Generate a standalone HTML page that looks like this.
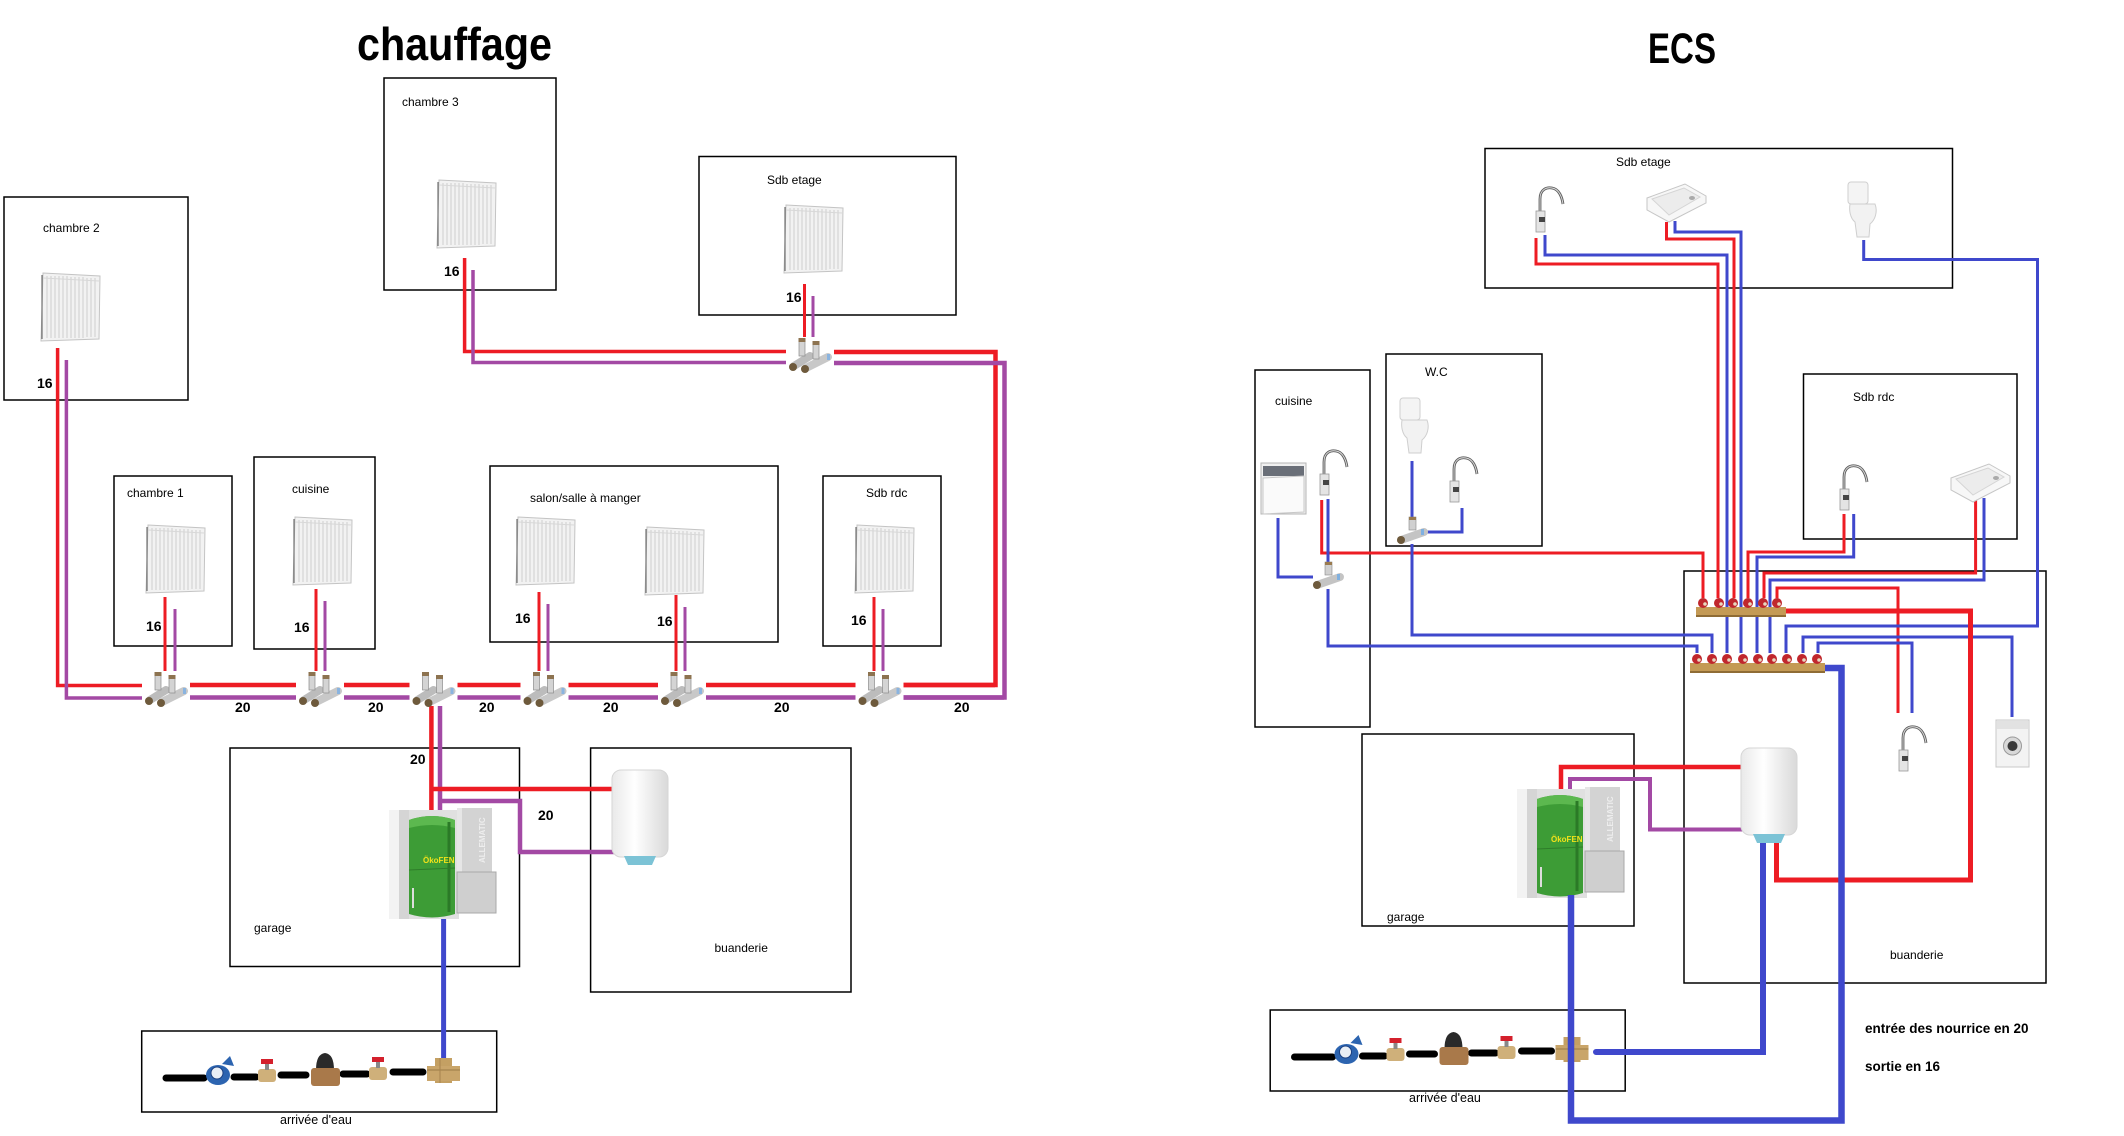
<!DOCTYPE html>
<html><head><meta charset="utf-8"><style>
html,body{margin:0;padding:0;background:#fff;}
svg{display:block;}
text{font-family:"Liberation Sans",sans-serif;fill:#000;}
.lbl{font-size:12px;}
.num{font-size:14px;font-weight:bold;}
</style></head><body>
<svg width="2124" height="1136" viewBox="0 0 2124 1136" xmlns="http://www.w3.org/2000/svg">
<defs>
<linearGradient id="hg" x1="0" x2="1" y1="0" y2="0"><stop offset="0" stop-color="#e9e9e9"/><stop offset="0.4" stop-color="#ffffff"/><stop offset="1" stop-color="#d9d9d9"/></linearGradient>
<g id="rad">
<polygon points="2,0 59,3 58,66 0,68" fill="#f2f2f2" stroke="#c4c4c4"/>
<g stroke="#cdcdcd" stroke-width="1">
<line x1="6" y1="3" x2="6" y2="65"/><line x1="10" y1="3" x2="10" y2="65"/><line x1="14" y1="3" x2="14" y2="65"/><line x1="18" y1="3" x2="18" y2="65"/><line x1="22" y1="3" x2="22" y2="65"/><line x1="26" y1="3" x2="26" y2="65"/><line x1="30" y1="4" x2="30" y2="65"/><line x1="34" y1="4" x2="34" y2="65"/><line x1="38" y1="4" x2="38" y2="65"/><line x1="42" y1="4" x2="42" y2="65"/><line x1="46" y1="5" x2="46" y2="64"/><line x1="50" y1="5" x2="50" y2="64"/><line x1="54" y1="5" x2="54" y2="64"/>
</g>
<line x1="2" y1="5" x2="58" y2="8" stroke="#d8d8d8"/>
<line x1="1" y1="2" x2="1" y2="66" stroke="#555" stroke-width="1"/>
</g>
<g id="v">
<rect x="0" y="0" width="48" height="35" fill="#fff"/>
<line x1="8" y1="29" x2="24" y2="19" stroke="#bcbcbc" stroke-width="8" stroke-linecap="round"/>
<line x1="20" y1="31" x2="42" y2="20" stroke="#c8c8c8" stroke-width="8" stroke-linecap="round"/>
<rect x="13" y="3" width="6" height="16" fill="#d4d4d4" stroke="#8c8c8c" stroke-width="0.7"/>
<rect x="27" y="6" width="6" height="16" fill="#d4d4d4" stroke="#8c8c8c" stroke-width="0.7"/>
<rect x="12.5" y="1" width="7" height="4" fill="#8d7350"/>
<rect x="26.5" y="4" width="7" height="4" fill="#8d7350"/>
<circle cx="7" cy="30" r="4" fill="#6e5a3c"/>
<circle cx="19" cy="32" r="4" fill="#6e5a3c"/>
<rect x="41" y="17" width="3" height="6" fill="#8ab4e0"/>
</g>
<g id="tee">
<rect x="0" y="0" width="30" height="27" fill="#fff"/>
<line x1="4" y1="23" x2="27" y2="15" stroke="#c4c4c4" stroke-width="8" stroke-linecap="round"/>
<rect x="12" y="0" width="7" height="13" fill="#d0d0d0" stroke="#888" stroke-width="0.6"/>
<rect x="12" y="0" width="7" height="3" fill="#9a7b4f"/>
<circle cx="4" cy="23" r="4" fill="#6e5a3c"/>
<rect x="24" y="12" width="3" height="6" fill="#7fb0e0"/>
</g>
<g id="boiler">
<rect x="0" y="2" width="70" height="109" fill="#e0e0e0"/>
<rect x="0" y="2" width="10" height="109" fill="#f3f3f3"/>
<rect x="10" y="2" width="10" height="109" fill="#d5d5d5"/>
<path d="M20 12 Q43 4 66 12 V106 Q43 113 20 106Z" fill="#3d9c36"/>
<path d="M20 12 Q43 4 66 12 V20 Q43 14 20 20Z" fill="#5cb84f"/>
<path d="M60 14 V104" stroke="#2b7a27" stroke-width="3"/>
<line x1="20" y1="62" x2="66" y2="60" stroke="#2e7d2a"/>
<rect x="23" y="80" width="2" height="20" fill="#ddd"/>
<rect x="68" y="0" width="35" height="70" fill="#d3d3d3"/>
<rect x="68" y="0" width="5" height="70" fill="#e6e6e6"/>
<text x="0" y="0" transform="translate(96,55) rotate(-90)" style="font-size:8px;font-weight:bold;fill:#eeeeee">ALLEMATIC</text>
<rect x="68" y="64" width="39" height="41" fill="#cfcfcf" stroke="#a8a8a8"/>
<text x="34" y="55" style="font-size:8px;font-weight:bold;fill:#f2e21a">ÖkoFEN</text>
</g>
<g id="heater">
<rect x="0" y="0" width="56" height="87" rx="9" fill="url(#hg)" stroke="#d6d6d6"/>
<path d="M12 86 H44 L40 95 H16Z" fill="#7cc3d6"/>
</g>
<g id="fau">
<path d="M7 26 V12 C7 2 14 0 19 1 C26 2 29 10 30 17" fill="none" stroke="#5f5f5f" stroke-width="2.8"/>
<path d="M7 26 V12 C7 2 14 0 19 1 C26 2 29 10 30 17" fill="none" stroke="#dcdcdc" stroke-width="0.9"/>
<rect x="3" y="24" width="9" height="21" fill="#e4e4e4" stroke="#9a9a9a" stroke-width="0.8"/>
<rect x="6" y="30" width="6" height="5" fill="#444"/>
</g>
<g id="sink">
<polygon points="0,14 38,0 59,12 59,19 22,38 0,26" fill="#f7f7f7" stroke="#c6c6c6"/>
<polygon points="5,15 37,4 53,13 22,31" fill="#ececec" stroke="#d5d5d5"/>
<ellipse cx="45" cy="14" rx="3" ry="2" fill="#aaa"/>
</g>
<g id="wc">
<rect x="3" y="0" width="20" height="22" rx="3" fill="#f4f4f4" stroke="#cfcfcf"/>
<path d="M5 22 H30 C33 30 30 38 25 42 L24 55 H12 L10 40 C5 36 4 28 5 22Z" fill="#f2f2f2" stroke="#cfcfcf"/>
</g>
<g id="arrc">
<g stroke="#000" stroke-width="7" stroke-linecap="round">
<line x1="166" y1="1078" x2="204" y2="1078"/>
<line x1="234" y1="1077" x2="256" y2="1077"/>
<line x1="281" y1="1075" x2="306" y2="1075"/>
<line x1="343" y1="1074" x2="367" y2="1074"/>
<line x1="393" y1="1072" x2="423" y2="1072"/>
</g>
<ellipse cx="218" cy="1075" rx="12" ry="10" fill="#2c64b0"/>
<circle cx="217" cy="1073" r="6" fill="#e8eef5" stroke="#1a3f80"/>
<path d="M222 1064 L230 1056 L234 1066 Z" fill="#2c64b0"/>
<rect x="258" y="1069" width="18" height="13" rx="3" fill="#cfb07a"/>
<rect x="265" y="1063" width="4" height="7" fill="#888"/>
<rect x="261" y="1059" width="12" height="5" fill="#d4202c"/>
<path d="M316 1070 Q316 1054 325 1053 Q334 1054 334 1070Z" fill="#2a2a2a"/>
<rect x="311" y="1068" width="29" height="18" rx="3" fill="#a9794a"/>
<rect x="369" y="1067" width="18" height="13" rx="3" fill="#cfb07a"/>
<rect x="376" y="1061" width="4" height="7" fill="#888"/>
<rect x="372" y="1057" width="12" height="5" fill="#d4202c"/>
<rect x="435" y="1058" width="17" height="25" fill="#c4a063"/>
<rect x="427" y="1066" width="33" height="15" fill="#c9a56a"/>
<line x1="427" y1="1070" x2="460" y2="1070" stroke="#9c7a45"/>
<line x1="440" y1="1058" x2="440" y2="1083" stroke="#a8844f"/>
</g>
</defs>

<!-- TITLES -->
<text x="357" y="60" textLength="195" lengthAdjust="spacingAndGlyphs" style="font-size:46px;font-weight:bold">chauffage</text>
<text x="1648" y="63" textLength="68" lengthAdjust="spacingAndGlyphs" style="font-size:43px;font-weight:bold">ECS</text>

<!-- CHAUFFAGE BOXES -->
<g fill="none" stroke="#000" stroke-width="1.5">
<rect x="384" y="78" width="172" height="212"/>
<rect x="699" y="156.5" width="257" height="158.5"/>
<rect x="4" y="197" width="184" height="203"/>
<rect x="114" y="476" width="118" height="170"/>
<rect x="254" y="457" width="121" height="192"/>
<rect x="490" y="466" width="288" height="176"/>
<rect x="823" y="476" width="118" height="170"/>
<rect x="230" y="748" width="289.5" height="218.5"/>
<rect x="590.6" y="748" width="260.4" height="244"/>
<rect x="141.7" y="1031" width="355" height="81"/>
</g>

<!-- ECS BOXES -->
<g fill="none" stroke="#000" stroke-width="1.5">
<rect x="1485" y="148.5" width="467.5" height="139.5"/>
<rect x="1386" y="354" width="156" height="192"/>
<rect x="1255" y="370" width="115" height="357"/>
<rect x="1803.5" y="374" width="213.5" height="165"/>
<rect x="1362" y="734" width="272" height="192"/>
<rect x="1684" y="571" width="362" height="412"/>
<rect x="1270.2" y="1010" width="355" height="81"/>
</g>

<!-- CHAUFFAGE PIPES -->
<g fill="none" stroke-linejoin="miter">
<!-- chambre 3 -->
<polyline points="464.6,258 464.6,351.5 787,351.5" stroke="#ed1c24" stroke-width="3.5"/>
<polyline points="473,270 473,362.5 787,362.5" stroke="#a349a4" stroke-width="3.5"/>
<!-- sdb etage -->
<line x1="804.5" y1="284" x2="804.5" y2="341" stroke="#ed1c24" stroke-width="3"/>
<line x1="813" y1="296" x2="813" y2="341" stroke="#a349a4" stroke-width="3"/>
<!-- right loop -->
<polyline points="830,352 995.5,352 995.5,685 880,685" stroke="#ed1c24" stroke-width="4.5"/>
<polyline points="830,363 1004.5,363 1004.5,697.5 880,697.5" stroke="#a349a4" stroke-width="4.5"/>
<!-- chambre 2 -->
<polyline points="57.6,348 57.6,685.5 145,685.5" stroke="#ed1c24" stroke-width="3.5"/>
<polyline points="66.4,360 66.4,698 145,698" stroke="#a349a4" stroke-width="3.5"/>
<!-- main -->
<line x1="145" y1="685" x2="995" y2="685" stroke="#ed1c24" stroke-width="4.5"/>
<line x1="145" y1="697.5" x2="1004" y2="697.5" stroke="#a349a4" stroke-width="4.5"/>
<!-- room verticals -->
<g stroke-width="3">
<line x1="165" y1="597" x2="165" y2="674" stroke="#ed1c24"/><line x1="175" y1="609" x2="175" y2="674" stroke="#a349a4"/>
<line x1="316" y1="589" x2="316" y2="674" stroke="#ed1c24"/><line x1="325" y1="601" x2="325" y2="674" stroke="#a349a4"/>
<line x1="539" y1="592" x2="539" y2="674" stroke="#ed1c24"/><line x1="548" y1="604" x2="548" y2="674" stroke="#a349a4"/>
<line x1="676" y1="595" x2="676" y2="674" stroke="#ed1c24"/><line x1="685" y1="607" x2="685" y2="674" stroke="#a349a4"/>
<line x1="874" y1="597" x2="874" y2="674" stroke="#ed1c24"/><line x1="883" y1="609" x2="883" y2="674" stroke="#a349a4"/>
</g>
<!-- to garage -->
<polyline points="431.4,704 431.4,812" stroke="#ed1c24" stroke-width="4.5"/>
<polyline points="440,704 440,817" stroke="#a349a4" stroke-width="4.5"/>
<polyline points="431.4,789 617,789" stroke="#ed1c24" stroke-width="4.5"/>
<polyline points="440,801 520,801 520,852 618,852" stroke="#a349a4" stroke-width="4.5"/>
<line x1="443.6" y1="916" x2="443.6" y2="1059" stroke="#3f48cc" stroke-width="5"/>
</g>

<!-- CHAUFFAGE ICONS -->
<use href="#rad" x="437" y="180"/>
<use href="#rad" x="784" y="205"/>
<use href="#rad" x="41" y="273"/>
<use href="#rad" x="146" y="525"/>
<use href="#rad" x="293" y="517"/>
<use href="#rad" x="516" y="517"/>
<use href="#rad" x="645" y="527"/>
<use href="#rad" x="855" y="525"/>
<use href="#v" x="786" y="337"/>
<use href="#v" x="142" y="671"/>
<use href="#v" x="296" y="671"/>
<use href="#v" x="409.5" y="671"/>
<use href="#v" x="520.5" y="671"/>
<use href="#v" x="658" y="671"/>
<use href="#v" x="855.5" y="671"/>
<use href="#boiler" x="389" y="808"/>
<use href="#heater" x="612" y="770"/>
<use href="#arrc"/>

<!-- ECS PIPES -->
<g fill="none" stroke-width="3">
<!-- red -->
<polyline points="1536,238 1536,264 1718,264 1718,598" stroke="#ed1c24"/>
<polyline points="1666.5,222 1666.5,239 1734,239 1734,598" stroke="#ed1c24"/>
<polyline points="1321.7,500 1321.7,553 1703,553 1703,598" stroke="#ed1c24"/>
<polyline points="1844,514 1844,552 1748,552 1748,598" stroke="#ed1c24"/>
<polyline points="1975.6,500 1975.6,573 1764,573 1764,598" stroke="#ed1c24"/>
<polyline points="1777,598 1777,588 1898,588 1898,713" stroke="#ed1c24"/>
<!-- blue -->
<polyline points="1545,235 1545,255 1727,255 1727,653" stroke="#3f48cc"/>
<polyline points="1675,221 1675,232 1741,232 1741,653" stroke="#3f48cc"/>
<polyline points="1863.7,240 1863.7,259.5 2037.5,259.5 2037.5,626 1786,626 1786,653" stroke="#3f48cc"/>
<polyline points="1278,518 1278,577 1315,577" stroke="#3f48cc"/>
<polyline points="1328,499 1328,563" stroke="#3f48cc"/>
<polyline points="1328,588 1328,646 1697,646 1697,653" stroke="#3f48cc"/>
<polyline points="1412,461 1412,518" stroke="#3f48cc"/>
<polyline points="1462,508 1462,532 1427,532" stroke="#3f48cc"/>
<polyline points="1412,543 1412,635 1712,635 1712,653" stroke="#3f48cc"/>
<polyline points="1853.7,514 1853.7,557 1757,557 1757,653" stroke="#3f48cc"/>
<polyline points="1984,498 1984,580 1770,580 1770,653" stroke="#3f48cc"/>
<polyline points="1803,653 1803,637 2012,637 2012,717" stroke="#3f48cc"/>
<polyline points="1818,653 1818,643 1912,643 1912,713" stroke="#3f48cc"/>
<!-- thick -->
<polyline points="1782,611 1970.5,611 1970.5,880 1776.5,880 1776.5,841" stroke="#ed1c24" stroke-width="5"/>
<polyline points="1561,790 1561,767 1746,767" stroke="#ed1c24" stroke-width="4.5"/>
<polyline points="1570,794 1570,779 1650,779 1650,829.5 1748,829.5" stroke="#a349a4" stroke-width="4"/>
<polyline points="1596,1052 1763,1052 1763,841" stroke="#3f48cc" stroke-width="6" stroke-linecap="round"/>
</g>

<!-- ECS ICONS -->
<use href="#fau" x="1533" y="187"/>
<use href="#fau" x="1317" y="450"/>
<use href="#fau" x="1447" y="457"/>
<use href="#fau" x="1837" y="465"/>
<use href="#fau" x="1896" y="726"/>
<use href="#sink" x="1647" y="184"/>
<use href="#sink" x="1951" y="464"/>
<use href="#wc" x="1845" y="182"/>
<use href="#wc" x="1397" y="398"/>
<g transform="translate(1260,462)">
<rect x="1" y="1" width="45" height="51" fill="#f0f0f0" stroke="#b5b5b5"/>
<rect x="3" y="4" width="41" height="10" fill="#6a6f78"/>
<polygon points="3,16 44,14 44,50 3,52" fill="#fafafa" stroke="#c8c8c8"/>
</g>
<g transform="translate(1995,719)">
<rect x="1" y="1" width="33" height="47" fill="#f3f3f3" stroke="#c8c8c8"/>
<rect x="2" y="2" width="31" height="8" fill="#e2e2e2"/>
<circle cx="17.5" cy="27" r="9" fill="#d8d8d8" stroke="#999"/>
<circle cx="17.5" cy="27" r="5" fill="#3a3a3a"/>
</g>
<use href="#tee" x="1313" y="562"/>
<use href="#tee" x="1397" y="517"/>

<!-- manifolds -->
<g>
<rect x="1696" y="607" width="90" height="10" fill="#c49a55"/>
<line x1="1696" y1="616" x2="1786" y2="616" stroke="#8f6c35" stroke-width="2"/>
<g fill="#c0272d">
<circle cx="1703" cy="603" r="5"/><circle cx="1719" cy="603" r="5"/><circle cx="1733" cy="603" r="5"/><circle cx="1748" cy="603" r="5"/><circle cx="1763" cy="603" r="5"/><circle cx="1777" cy="603" r="5"/>
</g>
<g fill="#e8d9c0"><circle cx="1705" cy="604" r="1.8"/><circle cx="1721" cy="604" r="1.8"/><circle cx="1735" cy="604" r="1.8"/><circle cx="1750" cy="604" r="1.8"/><circle cx="1765" cy="604" r="1.8"/><circle cx="1779" cy="604" r="1.8"/></g>
<rect x="1690" y="663" width="135" height="10" fill="#c49a55"/>
<line x1="1690" y1="672" x2="1825" y2="672" stroke="#8f6c35" stroke-width="2"/>
<g fill="#c0272d">
<circle cx="1697" cy="659" r="5"/><circle cx="1712" cy="659" r="5"/><circle cx="1727" cy="659" r="5"/><circle cx="1743" cy="659" r="5"/><circle cx="1758" cy="659" r="5"/><circle cx="1772" cy="659" r="5"/><circle cx="1787" cy="659" r="5"/><circle cx="1802" cy="659" r="5"/><circle cx="1817" cy="659" r="5"/>
</g>
<g fill="#e8d9c0"><circle cx="1699" cy="660" r="1.8"/><circle cx="1714" cy="660" r="1.8"/><circle cx="1729" cy="660" r="1.8"/><circle cx="1745" cy="660" r="1.8"/><circle cx="1760" cy="660" r="1.8"/><circle cx="1774" cy="660" r="1.8"/><circle cx="1789" cy="660" r="1.8"/><circle cx="1804" cy="660" r="1.8"/><circle cx="1819" cy="660" r="1.8"/></g>
</g>

<use href="#boiler" x="1517" y="787"/>
<use href="#heater" x="1741" y="748"/>
<use href="#arrc" transform="translate(1128.5,-21)"/>
<polyline points="1825,668 1841.5,668 1841.5,1120.5 1571,1120.5 1571,895" fill="none" stroke="#3f48cc" stroke-width="6.5" stroke-linejoin="miter"/>

<!-- CHAUFFAGE LABELS -->
<text class="lbl" x="402" y="106">chambre 3</text>
<text class="lbl" x="767" y="184">Sdb etage</text>
<text class="lbl" x="43" y="232">chambre 2</text>
<text class="lbl" x="127" y="497">chambre 1</text>
<text class="lbl" x="292" y="493">cuisine</text>
<text class="lbl" x="530" y="502">salon/salle à manger</text>
<text class="lbl" x="866" y="497">Sdb rdc</text>
<text class="lbl" x="254" y="932">garage</text>
<text class="lbl" x="714.5" y="952">buanderie</text>
<text class="lbl" x="280" y="1124" style="font-size:12.5px">arrivée d'eau</text>

<text class="num" x="37" y="388">16</text>
<text class="num" x="444" y="276">16</text>
<text class="num" x="786" y="302">16</text>
<text class="num" x="146" y="631">16</text>
<text class="num" x="294" y="632">16</text>
<text class="num" x="515" y="623">16</text>
<text class="num" x="657" y="626">16</text>
<text class="num" x="851" y="625">16</text>
<text class="num" x="235" y="712">20</text>
<text class="num" x="368" y="712">20</text>
<text class="num" x="479" y="712">20</text>
<text class="num" x="603" y="712">20</text>
<text class="num" x="774" y="712">20</text>
<text class="num" x="954" y="712">20</text>
<text class="num" x="410" y="764">20</text>
<text class="num" x="538" y="820">20</text>

<!-- ECS LABELS -->
<text class="lbl" x="1616" y="166">Sdb etage</text>
<text class="lbl" x="1275" y="405">cuisine</text>
<text class="lbl" x="1425" y="376">W.C</text>
<text class="lbl" x="1853" y="401">Sdb rdc</text>
<text class="lbl" x="1387" y="921">garage</text>
<text class="lbl" x="1890" y="959">buanderie</text>
<text class="lbl" x="1409" y="1102" style="font-size:12.5px">arrivée d'eau</text>
<text x="1865" y="1033" style="font-size:13.5px;font-weight:bold">entrée des nourrice en 20</text>
<text x="1865" y="1071" style="font-size:13.5px;font-weight:bold">sortie en 16</text>
</svg>
</body></html>
